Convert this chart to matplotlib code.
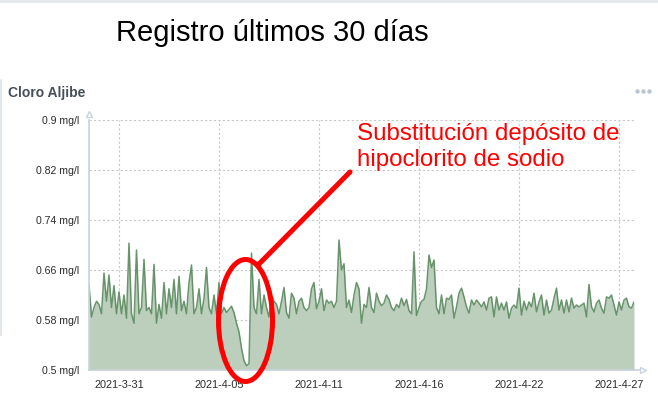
import matplotlib.pyplot as plt
from matplotlib.patches import Ellipse
from matplotlib.lines import Line2D

plt.rcParams['font.family'] = ['Liberation Sans', 'DejaVu Sans']

# cloro readings (mg/l), one value per sample
cloro = [
    0.636, 0.585, 0.600, 0.610, 0.605, 0.590, 0.655, 0.610, 0.652, 0.600,
    0.635, 0.590, 0.625, 0.590, 0.620, 0.583, 0.703, 0.590, 0.575, 0.692,
    0.590, 0.600, 0.677, 0.595, 0.600, 0.590, 0.669, 0.575, 0.605, 0.583,
    0.640, 0.590, 0.630, 0.600, 0.645, 0.590, 0.650, 0.595, 0.610, 0.590,
    0.640, 0.668, 0.590, 0.600, 0.630, 0.590, 0.615, 0.664, 0.600, 0.590,
    0.620, 0.590, 0.640, 0.590, 0.600, 0.592, 0.597, 0.602, 0.592, 0.575,
    0.561, 0.535, 0.515, 0.507, 0.510, 0.687, 0.600, 0.590, 0.645, 0.590,
    0.620, 0.600, 0.585, 0.620, 0.610, 0.605, 0.590, 0.610, 0.632, 0.592,
    0.583, 0.623, 0.615, 0.590, 0.610, 0.615, 0.600, 0.595, 0.600, 0.630,
    0.640, 0.598, 0.610, 0.630, 0.595, 0.612, 0.607, 0.610, 0.600, 0.610,
    0.708, 0.660, 0.670, 0.600, 0.612, 0.592, 0.620, 0.640, 0.630, 0.575,
    0.605, 0.600, 0.632, 0.600, 0.592, 0.623, 0.610, 0.603, 0.607, 0.620,
    0.613, 0.600, 0.595, 0.605, 0.600, 0.615, 0.603, 0.613, 0.595, 0.590,
    0.689, 0.587, 0.600, 0.610, 0.613, 0.630, 0.684, 0.664, 0.676, 0.600,
    0.590, 0.620, 0.590, 0.615, 0.613, 0.620, 0.583, 0.601, 0.623, 0.631,
    0.617, 0.601, 0.591, 0.612, 0.604, 0.612, 0.607, 0.601, 0.609, 0.596,
    0.615, 0.617, 0.585, 0.617, 0.596, 0.607, 0.596, 0.609, 0.583, 0.599,
    0.604, 0.599, 0.631, 0.588, 0.610, 0.596, 0.609, 0.601, 0.623, 0.593,
    0.609, 0.620, 0.588, 0.612, 0.591, 0.596, 0.615, 0.631, 0.596, 0.612,
    0.591, 0.612, 0.593, 0.615, 0.599, 0.604, 0.601, 0.604, 0.607, 0.585,
    0.637, 0.601, 0.593, 0.607, 0.612, 0.599, 0.591, 0.617, 0.615, 0.620,
    0.604, 0.588, 0.609, 0.596, 0.612, 0.615, 0.601, 0.599, 0.609,
]
x_idx = list(range(len(cloro)))

tick_pos = [12, 52, 92, 132, 172, 212]
tick_labels = ["2021-3-31", "2021-4-05", "2021-4-11", "2021-4-16", "2021-4-22", "2021-4-27"]
y_ticks = [0.5, 0.58, 0.66, 0.74, 0.82, 0.9]
y_labels = ["0.5 mg/l", "0.58 mg/l", "0.66 mg/l", "0.74 mg/l", "0.82 mg/l", "0.9 mg/l"]

W, H = 658, 412
fig = plt.figure(figsize=(W / 100, H / 100), dpi=100)

def fx(px):
    return px / W

def fy(py):
    return 1 - py / H

ax = fig.add_axes([fx(89), fy(370), (634 - 89) / W, 250 / H])

ax.fill_between(x_idx, cloro, 0.5, color="#bccfbd", lw=0)
ax.plot(x_idx, cloro, color="#5a8a5e", lw=1.1, alpha=0.9)

ax.set_xlim(0, len(cloro) - 1)
ax.set_ylim(0.5, 0.9)
ax.set_xticks(tick_pos)
ax.set_xticklabels(tick_labels, fontsize=7.8, color="#2b2b2b")
ax.set_yticks(y_ticks)
ax.set_yticklabels(y_labels, fontsize=7.6, color="#2b2b2b")
ax.tick_params(length=0, pad=7)
ax.grid(True, ls=(0, (2, 2)), color="#c8c8c8", lw=0.8)
ax.set_axisbelow(True)
for s in ["top", "right"]:
    ax.spines[s].set_visible(False)
for s in ["left", "bottom"]:
    ax.spines[s].set_color("#c8d2dc")
    ax.spines[s].set_linewidth(1.2)
ax.spines["bottom"].set_bounds(0, len(cloro) - 1)

# axis extension and arrows
fig.add_artist(Line2D([fx(634), fx(640)], [fy(370), fy(370)], color="#c8d2dc", lw=1.2))
fig.add_artist(Line2D([fx(643)], [fy(370)], marker=">", ms=5, mfc="white", mec="#c8d2dc", mew=1))
fig.add_artist(Line2D([fx(89)], [fy(114)], marker="^", ms=5, mfc="white", mec="#c8d2dc", mew=1))

# card borders
fig.add_artist(Line2D([0, 1], [fy(1), fy(1)], color="#e3e8ed", lw=2))
fig.add_artist(Line2D([fx(1), fx(1)], [fy(80), fy(335)], color="#dde3e9", lw=1.2))

fig.text(fx(272), fy(33), "Registro últimos 30 días", fontsize=21, ha="center", va="center", color="black")
fig.text(fx(8), fy(93), "Cloro Aljibe", fontsize=10, fontweight="bold", ha="left", va="center", color="#46505a")
for dx in [637, 643, 649]:
    fig.add_artist(Line2D([fx(dx)], [fy(91)], marker="o", ms=3.2, mfc="#bcc5ce", mec="none"))

# red annotation
fig.text(fx(357), fy(140), "Substitución depósito de", fontsize=17.4, color="#ff0000", ha="left", va="baseline")
fig.text(fx(357), fy(166), "hipoclorito de sodio", fontsize=17.4, color="#ff0000", ha="left", va="baseline")
fig.add_artist(Line2D([fx(258), fx(350)], [fy(265), fy(172)], color="#ff0000", lw=3.6, solid_capstyle="round"))
fig.add_artist(Ellipse((fx(245.5), fy(320.5)), width=54 / W, height=122 / H,
                       fill=False, edgecolor="#ff0000", lw=3.6, transform=fig.transFigure))

fig.savefig("out.png", dpi=100)
